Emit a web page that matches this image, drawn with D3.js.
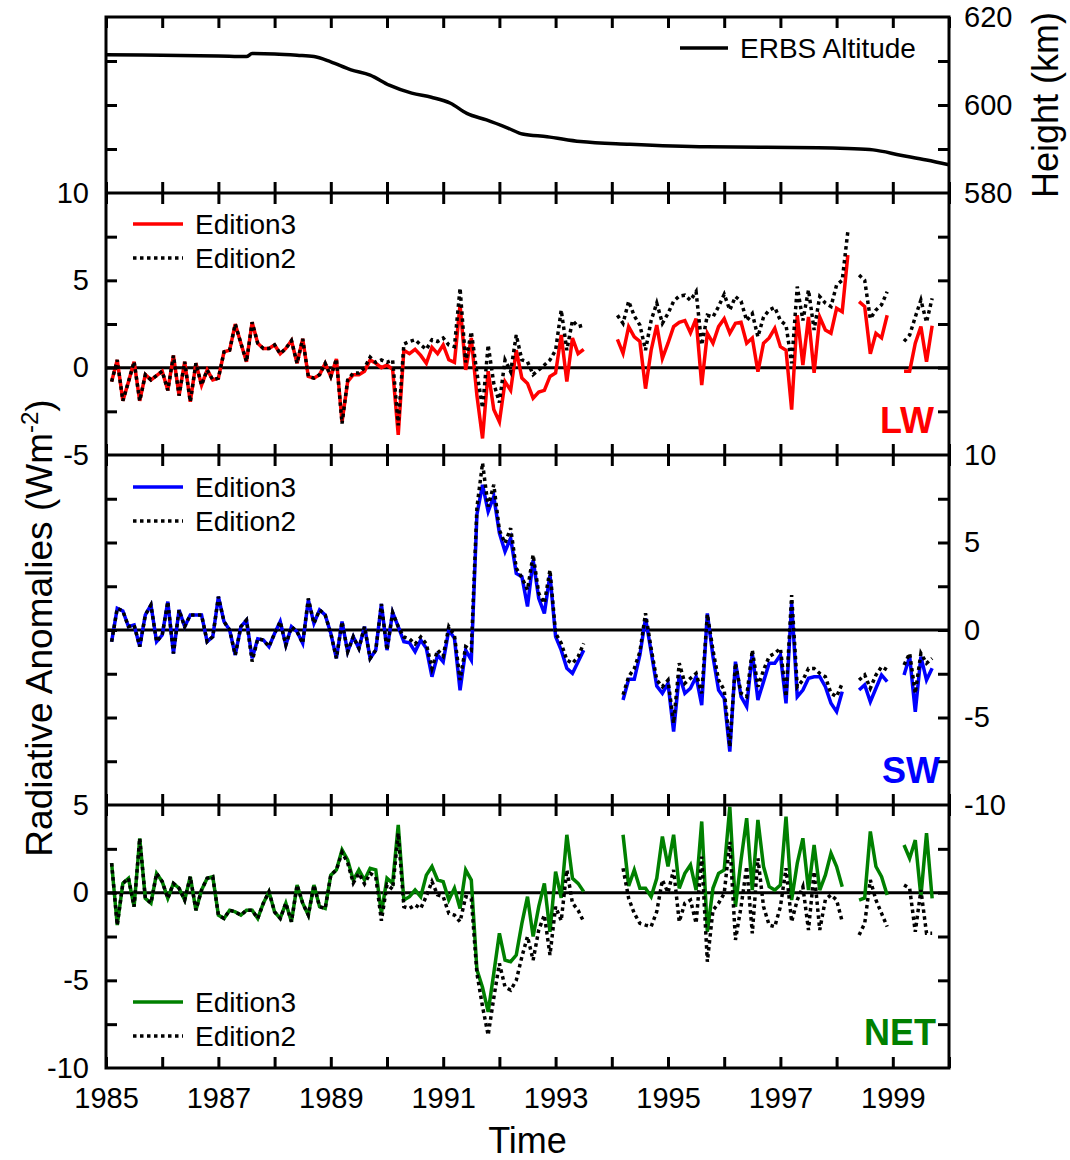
<!DOCTYPE html>
<html><head><meta charset="utf-8">
<script src="https://cdn.jsdelivr.net/npm/d3@7"></script>
<style>
body{margin:0;background:#fff}
svg{display:block}
text{font-family:"Liberation Sans",Arial,Helvetica,sans-serif;fill:#000}
</style>
</head><body>
<svg id="c" width="1070" height="1160"></svg>
<script>
// ---- sampling grid: 36-day means, ten per year ----
const T0 = 1985.1, DT = 0.1;
const YEAR_TICKS = [1985,1986,1987,1988,1989,1990,1991,1992,1993,1994,1995,1996,1997,1998,1999,2000];
const YEAR_LABELS = [1985,1987,1989,1991,1993,1995,1997,1999];

// ---- ERBS altitude (km) ----
const ALT_T  = [1985.0,1986.0,1987.0,1987.5,1987.6,1988.0,1988.4,1988.7,1989.0,1989.36,1989.7,1990.04,1990.44,1990.79,1991.13,1991.42,1991.77,1992.16,1992.41,1992.85,1993.44,1994.32,1995.7,1996.7,1997.67,1998.2,1998.65,1999.14,1999.6,2000.0];
const ALT_KM = [611.4,611.3,611.15,611.0,611.7,611.6,611.3,611.0,609.8,608.0,606.8,604.5,602.7,601.75,600.4,598.1,596.6,594.7,593.4,592.8,591.7,591.1,590.5,590.4,590.3,590.1,589.8,588.6,587.5,586.4];

// ---- LW anomalies (W m-2) ----
const LW_ED3 = [
 -0.8,0.44,-1.9,-0.8,0.34,-1.9,-0.4,-0.7,-0.45,-0.2,
 -1.3,0.7,-1.6,0.34,-1.95,0.25,-1.0,-0.13,-0.7,-0.6,
 0.9,1.0,2.5,1.4,0.34,2.6,1.4,1.1,1.1,1.3,
 0.8,1.1,1.55,0.25,1.65,-0.5,-0.6,-0.4,0.25,-0.5,
 0.5,-3.1,-0.8,-0.4,-0.4,-0.2,0.44,0.25,0.0,0.15,
 -0.1,-3.85,1.0,0.8,1.05,0.7,0.25,1.16,0.8,1.3,
 0.45,0.3,3.6,-0.13,1.7,-1.6,-4.05,-0.2,-2.4,-3.1,
 -0.8,-1.3,1.0,-0.6,-0.9,-1.75,-1.4,-1.3,-0.5,-0.3,
 1.87,-0.8,1.7,0.8,1.05,null,null,null,null,null,
 1.62,0.82,2.35,1.77,1.5,-1.2,1.0,2.44,0.53,1.4,
 2.35,2.6,2.7,2.0,2.8,-1.0,1.97,1.4,2.35,2.8,
 1.97,2.54,2.6,1.4,1.7,-0.23,1.4,1.7,2.25,1.2,
 1.0,-2.4,3.0,0.15,2.9,-0.3,2.9,2.16,1.97,3.4,
 3.2,6.45,null,3.78,3.5,0.8,1.97,1.7,3.0,null,
 null,-0.2,-0.2,1.4,2.35,0.34,2.4];
const LW_ED2 = [
 -0.8,0.44,-1.9,-0.8,0.34,-1.9,-0.4,-0.7,-0.45,-0.2,
 -1.3,0.7,-1.6,0.34,-1.95,0.25,-1.0,-0.13,-0.7,-0.6,
 0.9,1.0,2.5,1.4,0.34,2.6,1.4,1.1,1.1,1.3,
 0.8,1.1,1.55,0.25,1.65,-0.5,-0.6,-0.4,0.25,-0.5,
 0.5,-3.2,-0.7,-0.3,-0.3,0.0,0.6,0.3,0.44,0.3,
 0.44,-3.3,1.35,1.5,1.6,1.3,1.05,1.6,1.5,1.7,
 1.3,1.2,4.55,0.3,2.06,-0.3,-2.3,1.3,-0.9,-2.0,
 0.44,-0.23,1.87,0.44,0.34,-0.4,-0.13,0.15,0.44,1.0,
 3.3,1.0,2.7,2.35,2.44,null,null,null,null,null,
 3.0,2.54,3.8,2.96,2.44,1.0,2.7,3.7,2.54,3.1,
 3.8,4.1,4.15,3.85,4.35,1.3,3.0,2.9,3.5,4.2,
 3.3,4.07,3.8,2.7,3.1,1.77,2.9,3.3,3.45,2.7,
 2.44,0.25,4.64,2.7,4.45,2.16,4.07,3.7,3.5,4.73,
 5.0,7.8,null,5.3,5.0,2.8,3.3,3.6,4.35,null,
 null,1.5,1.87,2.9,3.87,2.6,3.97];

// ---- SW anomalies ----
const SW_ED3 = [
 -0.67,1.24,1.09,0.19,0.29,-0.95,0.86,1.43,-0.67,-0.29,
 1.62,-1.34,1.15,0.19,0.86,0.86,0.86,-0.67,-0.38,1.9,
 0.48,0,-1.43,0.19,0.57,-1.62,-0.5,-0.57,-0.95,-0.2,
 0.48,-0.86,0.19,-0.1,-0.76,1.72,0.38,1.15,0.86,-0.19,
 -1.62,0.48,-1.24,-0.38,-1.05,0.19,-1.62,-1.15,1.49,-1.15,
 1.0,0.19,-0.67,-0.73,-1.24,-0.57,-1.05,-2.67,-1.43,-1.81,
 0,-0.48,-3.44,-1.15,-1.72,6.6,8.3,6.77,7.63,5.53,
 4.48,5.25,3.24,3.05,1.34,4.0,1.81,0.95,3.15,-0.38,
 -1.15,-2.19,-2.48,-1.81,-1.15,null,null,null,null,null,
 null,-4.0,-2.82,-2.82,-1.43,0.67,-1.24,-3.2,-3.62,-3.05,
 -5.8,-2.57,-3.62,-3.33,-2.67,-4.29,0.95,-1.52,-3.43,-3.9,
 -6.95,-1.81,-3.81,-4.38,-1.33,-4.0,-2.95,-1.9,-1.9,-1.43,
 -4.19,1.52,-3.81,-3.43,-2.76,-2.67,-2.67,-3.24,-4.19,-4.67,
 -3.52,null,null,-3.43,-3.14,-4.1,-3.33,-2.57,-2.95,null,
 null,-2.57,-1.52,-4.67,-1.52,-2.86,-2.19];
const SW_ED2 = [
 -0.67,1.24,1.09,0.19,0.29,-0.95,0.86,1.43,-0.67,-0.29,
 1.62,-1.34,1.15,0.19,0.86,0.86,0.86,-0.67,-0.38,1.9,
 0.48,0,-1.43,0.19,0.57,-1.8,-0.5,-0.57,-0.95,-0.2,
 0.48,-0.86,0.19,-0.1,-0.76,1.8,0.38,1.15,0.86,-0.19,
 -1.62,0.48,-1.24,-0.38,-1.05,0.19,-1.62,-1.15,1.49,-1.15,
 1.0,0.19,-0.4,-0.5,-0.8,-0.4,-0.8,-2.2,-1.15,-1.5,
 0.19,-0.3,-2.86,-0.95,-1.15,7.0,9.54,7.06,8.3,5.7,
 4.96,5.82,3.53,3.0,2.29,4.3,2.1,1.53,3.43,-0.19,
 -0.76,-1.72,-1.91,-1.53,-0.76,null,null,null,null,null,
 null,-3.7,-2.67,-2.2,-1.24,0.95,-1.05,-2.86,-3.24,-2.86,
 -5.33,-1.9,-3.05,-2.76,-2.48,-3.62,0.9,-1.14,-2.86,-3.43,
 -6.67,-1.9,-3.62,-3.81,-1.14,-3.24,-2.29,-1.52,-1.33,-1.05,
 -3.81,2.0,-3.24,-2.86,-2.2,-2.2,-2.48,-2.67,-3.62,-3.81,
 -3.05,null,null,-2.86,-2.57,-3.33,-2.57,-2.1,-2.29,null,
 null,-2.0,-1.33,-3.62,-1.33,-1.9,-1.62];

// ---- NET anomalies ----
const NET_ED3 = [
 1.68,-1.85,0.53,0.82,-0.8,3.1,-0.32,-0.6,1.1,0.63,
 -0.32,0.53,0.25,-0.42,0.91,-1.0,0.15,0.82,0.91,-1.28,
 -1.47,-1.0,-1.1,-1.28,-1.0,-1.0,-1.47,-0.6,0.05,-1.1,
 -1.47,-0.6,-1.66,0.44,-0.6,-1.28,0.44,-0.8,-0.9,1.0,
 1.3,2.44,1.87,0.72,1.3,0.72,1.39,1.3,-1.18,0.82,
 0.53,3.87,-0.42,-0.23,0.15,-0.23,1.0,1.49,0.72,0.63,
 -0.42,0.25,-0.9,1.3,0.72,-4.4,-5.4,-6.8,-4.6,-2.32,
 -3.85,-3.94,-3.56,-1.75,-0.23,-2.5,-0.8,0.53,-2.23,1.2,
 -0.3,3.3,0.82,0.53,0.06,null,null,null,null,null,
 null,3.3,0.38,1.3,0.25,0.25,-0.23,0.82,3.2,1.49,
 3.3,0.25,1.1,1.58,0.15,4.06,-2.23,0.25,1.1,1.3,
 4.9,-0.8,1.87,4.25,0.15,4.15,1.49,0.34,0.15,0.44,
 4.34,-0.42,1.68,3.1,0.15,2.72,0.15,1.0,2.25,1.49,
 0.34,null,null,-0.42,-0.3,3.49,1.49,0.91,-0.13,null,
 null,2.72,1.96,3.0,-0.23,3.39,-0.32];
const NET_ED2 = [
 1.68,-1.85,0.53,0.82,-0.8,3.1,-0.32,-0.6,1.1,0.63,
 -0.32,0.53,0.25,-0.42,0.91,-1.0,0.15,0.82,0.91,-1.28,
 -1.47,-1.0,-1.1,-1.28,-1.0,-1.0,-1.47,-0.6,0.05,-1.1,
 -1.47,-0.6,-1.66,0.44,-0.6,-1.28,0.44,-0.8,-0.9,1.0,
 1.3,2.3,1.7,0.55,1.1,0.5,1.1,0.9,-1.6,0.45,
 0.2,3.4,-0.8,-0.9,-0.7,-0.9,-0.2,0.63,-0.13,-0.23,
 -1.18,-1.28,-1.66,-0.23,-0.32,-4.6,-6.5,-8.13,-6.0,-4.04,
 -5.37,-5.56,-5.0,-3.66,-2.5,-3.85,-2.13,-1.28,-3.56,-0.8,
 -1.6,1.3,-0.6,-1.0,-1.66,null,null,null,null,null,
 null,1.39,-0.32,-1.18,-1.75,-1.85,-1.94,-1.08,0.72,0,
 1.3,-1.66,-0.6,-0.42,-1.75,2.06,-3.94,-1.0,-0.6,-0.04,
 2.9,-2.7,-0.8,1.49,-2.32,1.96,-0.8,-1.85,-1.94,-0.8,
 1.39,-1.66,-0.42,0.34,-2.13,1.2,-2.13,-0.4,-0.13,-0.42,
 -1.66,null,null,-2.42,-1.75,0.72,-0.42,-1.18,-1.94,null,
 null,0.44,0.25,-2.23,0.15,-2.32,-2.32];

// ---- axis tick values ----
const ALT_TICKS = [590,600,610];
const ALT_LABELS = [580,600,620];
const LW_TICKS = [-2.5,0,2.5,5,7.5];
const LW_LABELS = [-5,0,5,10];
const SW_TICKS = [-7.5,-5,-2.5,0,2.5,5,7.5];
const SW_LABELS = [-10,-5,0,5,10];
const NET_TICKS = [-7.5,-5,-2.5,0,2.5];
const NET_LABELS = [-10,-5,0,5];

// ================= drawing =================
const svg = d3.select("#c");
const X0 = 106, X1 = 949;
const x = d3.scaleLinear().domain([1985, 2000]).range([X0, X1]);

const yAlt = d3.scaleLinear().domain([580, 620]).range([193, 17]);
const yLW  = d3.scaleLinear().domain([-5, 10]).range([455, 193]);
const ySW  = d3.scaleLinear().domain([-10, 10]).range([805, 455]);
const yNET = d3.scaleLinear().domain([-10, 5]).range([1068, 805]);

const FS_TICK = 29, FS_LEG = 28;
const TICK = 11, SW_W = 3;
const plain = d => String(d);   // ASCII hyphen-minus as in the original

function seriesPts(arr){ return arr.map((v,i)=>({t: T0 + DT*i, v})); }

const panels = [
  {y: yLW,  ed3: LW_ED3,  ed2: LW_ED2,  color:"#ff0000", name:"LW",  ticks: LW_TICKS},
  {y: ySW,  ed3: SW_ED3,  ed2: SW_ED2,  color:"#0000ff", name:"SW",  ticks: SW_TICKS},
  {y: yNET, ed3: NET_ED3, ed2: NET_ED2, color:"#008000", name:"NET", ticks: NET_TICKS}
];

// zero lines
panels.forEach(p=>{
  svg.append("line").attr("x1",X0).attr("x2",X1)
    .attr("y1",p.y(0)).attr("y2",p.y(0))
    .attr("stroke","#000").attr("stroke-width",3);
});

// data lines
panels.forEach(p=>{
  const line = d3.line().defined(d=>d.v!=null).x(d=>x(d.t)).y(d=>p.y(d.v));
  svg.append("path").datum(seriesPts(p.ed3)).attr("d",line)
    .attr("fill","none").attr("stroke",p.color).attr("stroke-width",3.5)
    .attr("stroke-linejoin","miter").attr("stroke-miterlimit",4);
  svg.append("path").datum(seriesPts(p.ed2)).attr("d",line)
    .attr("fill","none").attr("stroke","#000").attr("stroke-width",3.5)
    .attr("stroke-dasharray","3.5,3.5");
});

// altitude curve
const altLine = d3.line().x((d,i)=>x(ALT_T[i])).y(d=>yAlt(d)).curve(d3.curveMonotoneX);
svg.append("path").datum(ALT_KM).attr("d",altLine)
  .attr("fill","none").attr("stroke","#000").attr("stroke-width",3.5);

// tick marks (inward)
function tickAxes(yScale, top, bot, yt){
  const gT = svg.append("g").attr("transform",`translate(0,${top})`)
    .call(d3.axisTop(x).tickValues(YEAR_TICKS).tickSize(-TICK).tickSizeOuter(0).tickFormat(""));
  const gB = svg.append("g").attr("transform",`translate(0,${bot})`)
    .call(d3.axisBottom(x).tickValues(YEAR_TICKS).tickSize(-TICK).tickSizeOuter(0).tickFormat(""));
  const gL = svg.append("g").attr("transform",`translate(${X0},0)`)
    .call(d3.axisLeft(yScale).tickValues(yt).tickSize(-TICK).tickSizeOuter(0).tickFormat(""));
  const gR = svg.append("g").attr("transform",`translate(${X1},0)`)
    .call(d3.axisRight(yScale).tickValues(yt).tickSize(-TICK).tickSizeOuter(0).tickFormat(""));
  [gT,gB,gL,gR].forEach(g=>{
    g.select(".domain").remove();
    g.selectAll("line").attr("stroke","#000").attr("stroke-width",SW_W);
  });
}
tickAxes(yAlt, 17, 193, ALT_TICKS);
tickAxes(yLW, 193, 455, LW_TICKS);
tickAxes(ySW, 455, 805, SW_TICKS);
tickAxes(yNET, 805, 1068, NET_TICKS);

// frame
svg.append("rect").attr("x",X0).attr("y",17).attr("width",X1-X0).attr("height",1068-17)
  .attr("fill","none").attr("stroke","#000").attr("stroke-width",SW_W);
[193,455,805].forEach(yy=>{
  svg.append("line").attr("x1",X0).attr("x2",X1).attr("y1",yy).attr("y2",yy)
    .attr("stroke","#000").attr("stroke-width",SW_W);
});

// tick labels
function labelAxis(axis, tx, ty){
  const g = svg.append("g").attr("transform",`translate(${tx},${ty})`).call(axis);
  g.select(".domain").remove();
  g.selectAll("line").remove();
  g.selectAll("text").attr("font-size",FS_TICK).attr("font-family",'"Liberation Sans",Arial,sans-serif').attr("fill","#000");
  return g;
}
labelAxis(d3.axisLeft(yLW).tickValues(LW_LABELS).tickSize(0).tickPadding(17).tickFormat(plain), X0, 0);
labelAxis(d3.axisLeft(yNET).tickValues(NET_LABELS).tickSize(0).tickPadding(17).tickFormat(plain), X0, 0);
labelAxis(d3.axisRight(ySW).tickValues(SW_LABELS).tickSize(0).tickPadding(15).tickFormat(plain), X1, 0);
labelAxis(d3.axisRight(yAlt).tickValues(ALT_LABELS).tickSize(0).tickPadding(15).tickFormat(plain), X1, 0);
labelAxis(d3.axisBottom(x).tickValues(YEAR_LABELS).tickSize(0).tickPadding(19).tickFormat(plain), 0, 1068);

// axis titles
svg.append("text").attr("transform","translate(52,628) rotate(-90)")
  .attr("text-anchor","middle").attr("font-size",37)
  .call(t=>{
    t.append("tspan").text("Radiative Anomalies (Wm");
    t.append("tspan").attr("font-size",24).attr("dy",-14).text("-2");
    t.append("tspan").attr("dy",14).text(")");
  });
svg.append("text").attr("x",(X0+X1)/2).attr("y",1153).attr("text-anchor","middle")
  .attr("font-size",36).text("Time");
svg.append("text").attr("transform","translate(1058,105) rotate(-90)")
  .attr("text-anchor","middle").attr("font-size",36).text("Height (km)");

// panel names
const nameY = {LW:433, SW:783, NET:1045};
const nameX = {LW:934, SW:940, NET:936};
panels.forEach(p=>{
  svg.append("text").attr("x",nameX[p.name]).attr("y",nameY[p.name])
    .attr("text-anchor","end").attr("font-size",36).attr("font-weight","bold")
    .attr("fill",p.color).style("fill",p.color).text(p.name);
});

// legends
function legend(yLine, color){
  svg.append("line").attr("x1",133).attr("x2",183).attr("y1",yLine).attr("y2",yLine)
    .attr("stroke",color).attr("stroke-width",3.5);
  svg.append("text").attr("x",195).attr("y",yLine+10).attr("font-size",FS_LEG).text("Edition3");
  svg.append("line").attr("x1",133).attr("x2",183).attr("y1",yLine+34).attr("y2",yLine+34)
    .attr("stroke","#000").attr("stroke-width",3.5).attr("stroke-dasharray","3.5,3.5");
  svg.append("text").attr("x",195).attr("y",yLine+44).attr("font-size",FS_LEG).text("Edition2");
}
legend(224, "#ff0000");
legend(487, "#0000ff");
legend(1002, "#008000");

svg.append("line").attr("x1",680).attr("x2",728).attr("y1",48).attr("y2",48)
  .attr("stroke","#000").attr("stroke-width",3.5);
svg.append("text").attr("x",740).attr("y",58).attr("font-size",FS_LEG).text("ERBS Altitude");
</script>
</body></html>
